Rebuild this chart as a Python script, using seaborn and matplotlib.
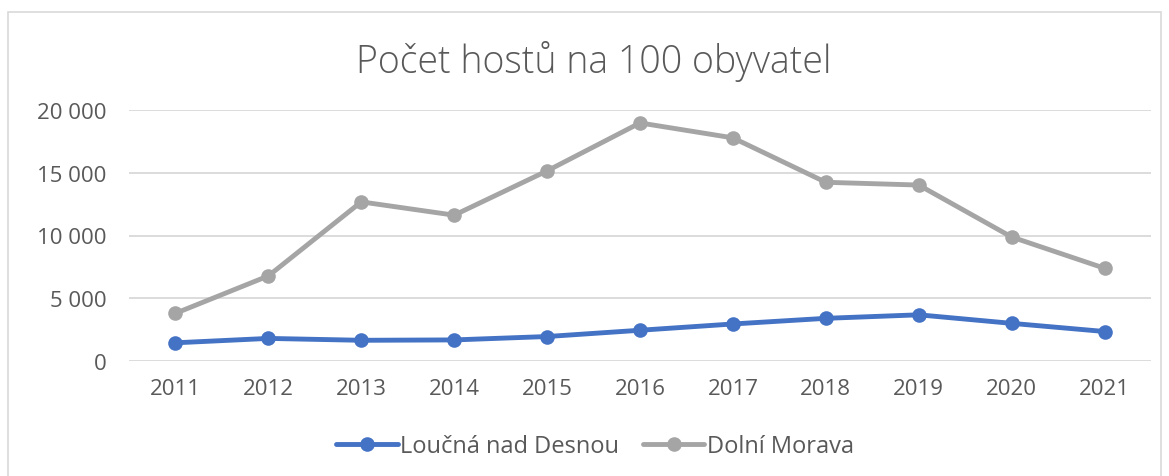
import numpy as np
import pandas as pd
import matplotlib.pyplot as plt
import matplotlib.ticker as mticker
from matplotlib.patches import Rectangle
import seaborn as sns

sns.set_style("white")
plt.rcParams['font.family'] = ['Open Sans', 'DejaVu Sans']

# data
roky = ['2011', '2012', '2013', '2014', '2015', '2016', '2017', '2018', '2019', '2020', '2021']
loucna = [1450, 1800, 1650, 1680, 1950, 2450, 2950, 3400, 3680, 3000, 2350]
dolni_morava = [3800, 6780, 12680, 11620, 15150, 18970, 17780, 14240, 14020, 9880, 7390]
serie = ['Loučná nad Desnou', 'Dolní Morava']
barvy = ['#4472C4', '#A5A5A5']
titulek = 'Počet hostů na 100 obyvatel'

df = pd.DataFrame({
    'rok': roky * 2,
    'hodnota': loucna + dolni_morava,
    'obec': [serie[0]] * len(roky) + [serie[1]] * len(roky),
})

text_col = '#595959'

fig = plt.figure(figsize=(11.69, 4.77), dpi=100)
ax = fig.add_axes([129 / 1169, 1 - 362 / 477, (1151 - 129) / 1169, (362 - 111) / 477])

# chart frame like in Excel
fig.patches.append(Rectangle((8 / 1169, -0.05), (1161 - 8) / 1169, 1.05 - 13 / 477,
                             transform=fig.transFigure, fill=False,
                             edgecolor='#D9D9D9', linewidth=1.2))

sns.lineplot(data=df, x='rok', y='hodnota', hue='obec', palette=barvy,
             marker='o', markersize=10.5, markeredgewidth=0, linewidth=3.5,
             sort=False, ax=ax)

ax.set_xlim(-0.5, len(roky) - 0.5)
ax.set_ylim(0, 20000)
ax.yaxis.set_major_locator(mticker.MultipleLocator(5000))
ax.yaxis.set_major_formatter(mticker.FuncFormatter(lambda v, p: f'{int(v):,}'.replace(',', ' ')))
ax.grid(axis='y', color='#D9D9D9', linewidth=1.3)
ax.set_axisbelow(True)
for s in ax.spines.values():
    s.set_visible(False)
ax.tick_params(axis='both', length=0, labelsize=16, colors=text_col)
ax.tick_params(axis='y', pad=16)
ax.tick_params(axis='x', pad=12)
ax.set_xlabel('')
ax.set_ylabel('')

fig.text(594 / 1169, 1 - 61 / 477, titulek, ha='center', va='center',
         fontsize=27, color=text_col, fontweight='light')

handles, labels = ax.get_legend_handles_labels()
ax.legend(handles, labels, loc='center', bbox_to_anchor=(595 / 1169, 1 - 447 / 477),
          bbox_transform=fig.transFigure, ncol=2, frameon=False, fontsize=17,
          labelcolor=text_col, handlelength=2.6, handletextpad=0.1, columnspacing=1.0)

fig.savefig('out.png', dpi=100)
